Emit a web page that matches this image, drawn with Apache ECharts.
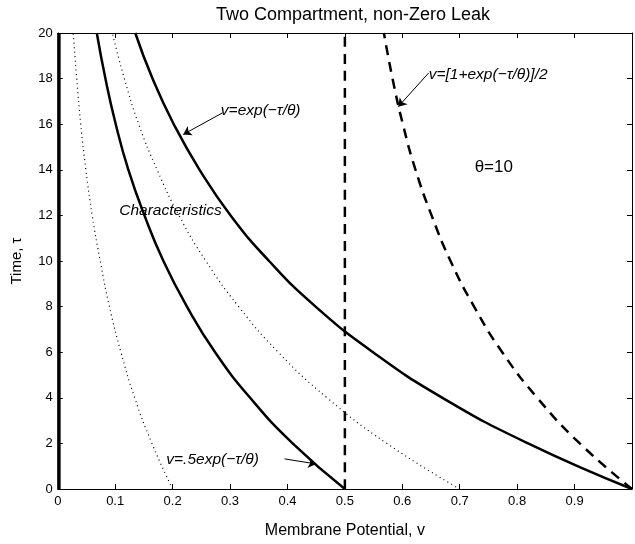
<!DOCTYPE html>
<html lang="en">
<head>
    <meta charset="UTF-8">
    <title>Two Compartment, non-Zero Leak</title>
    <script src="https://cdn.jsdelivr.net/npm/echarts/dist/echarts.min.js"></script>
    <style>
        body { margin: 0; background: #fff; }
        #chart { width: 635px; height: 544px; }
    </style>
</head>
<body>
<div id="chart"></div>
<script>
    const tau = [0, 2, 4, 6, 8, 10, 12, 14, 16, 18, 20];
    const vDot02 = [0.200, 0.164, 0.134, 0.110, 0.090, 0.074, 0.060, 0.049, 0.040, 0.033, 0.027];
    const vSolid05 = [0.500, 0.409, 0.335, 0.274, 0.225, 0.184, 0.151, 0.123, 0.101, 0.083, 0.068];
    const vDot07 = [0.700, 0.573, 0.469, 0.384, 0.315, 0.258, 0.211, 0.173, 0.141, 0.116, 0.095];
    const vSolid10 = [1.000, 0.819, 0.670, 0.549, 0.449, 0.368, 0.301, 0.247, 0.202, 0.165, 0.135];
    const vDashHalf = [1.000, 0.909, 0.835, 0.774, 0.725, 0.684, 0.651, 0.623, 0.601, 0.583, 0.568];
    // straight lines: v=0 edge and v=0.5
    const edgeV = [0.002, 0.002];
    const midV = [0.5, 0.5];
    const edgeTau = [0, 20];

    // annotations (data coordinates)
    const noteText = ['v=exp(\u2212\u03c4/\u03b8)', 'Characteristics', 'v=.5exp(\u2212\u03c4/\u03b8)', 'v=[1+exp(\u2212\u03c4/\u03b8)]/2', '\u03b8=10'];
    const noteV = [0.284, 0.107, 0.189, 0.646, 0.726];
    const noteTau = [16.6, 12.2, 1.3, 18.15, 14.1];
    const arrowFrom = [[0.287, 16.5], [0.395, 1.32], [0.646, 18.25]];
    const arrowTo = [[0.2185, 15.55], [0.450, 1.10], [0.593, 16.77]];

    const xTicks = [0, 0.1, 0.2, 0.3, 0.4, 0.5, 0.6, 0.7, 0.8, 0.9];

    const chart = echarts.init(document.getElementById('chart'));
    const font = '"Liberation Sans", Arial, sans-serif';

    function pairs(vs, ts) {
        return vs.map((v, i) => [v, ts[i]]);
    }

    function lineSeries(data, type, width) {
        return {
            type: 'line',
            data: data,
            smooth: true,
            symbol: 'none',
            silent: true,
            lineStyle: { color: '#000', width: width, type: type }
        };
    }

    const notesSeries = lineSeries([], 'solid', 1);
    notesSeries.markPoint = {
        silent: true,
        symbol: 'circle',
        symbolSize: 0,
        data: noteText.map((t, i) => ({
            coord: [noteV[i], noteTau[i]],
            label: {
                show: true,
                position: 'right',
                distance: 0,
                formatter: t,
                color: '#000',
                fontFamily: font,
                fontSize: i === 4 ? 17 : 15.5,
                fontStyle: i === 4 ? 'normal' : 'italic'
            }
        }))
    };
    notesSeries.markLine = {
        silent: true,
        animation: false,
        symbolSize: 8,
        label: { show: false },
        lineStyle: { color: '#000', width: 1, type: 'solid' },
        data: arrowFrom.map((p, i) => [
            { coord: p, symbol: 'none' },
            { coord: arrowTo[i], symbol: 'arrow' }
        ])
    };

    const axisCommon = {
        type: 'value',
        axisLine: { show: true, onZero: false, lineStyle: { color: '#000', width: 1 } },
        axisTick: { show: true, inside: true, length: 5, lineStyle: { color: '#000' } },
        splitLine: { show: false }
    };

    chart.setOption({
        animation: false,
        backgroundColor: '#fff',
        title: {
            text: 'Two Compartment, non-Zero Leak',
            left: 211,
            top: 1,
            textStyle: { fontFamily: font, fontSize: 18, fontWeight: 'normal', color: '#000' }
        },
        grid: { left: 57.75, right: -5.25, top: 33, bottom: 53 },
        xAxis: [
            Object.assign({}, axisCommon, {
                min: 0, max: 1, interval: 0.1,
                name: 'Membrane Potential, v',
                nameLocation: 'middle',
                nameGap: 34,
                nameTextStyle: { fontFamily: font, fontSize: 16, color: '#000' },
                axisLabel: {
                    margin: 6,
                    fontFamily: font, fontSize: 13, color: '#000',
                    formatter: v => xTicks.includes(Math.round(v * 10) / 10) ? String(Math.round(v * 10) / 10) : ''
                }
            }),
            Object.assign({}, axisCommon, {
                position: 'top', min: 0, max: 1, interval: 0.1,
                axisLabel: { show: false }
            })
        ],
        yAxis: [
            Object.assign({}, axisCommon, {
                min: 0, max: 20, interval: 2,
                name: 'Time, \u03c4',
                nameLocation: 'middle',
                nameGap: 33,
                nameTextStyle: { fontFamily: font, fontSize: 15, color: '#000' },
                axisLabel: { margin: 5, fontFamily: font, fontSize: 13, color: '#000' }
            }),
            Object.assign({}, axisCommon, {
                position: 'right', min: 0, max: 20, interval: 2,
                axisLabel: { show: false }
            })
        ],
        series: [
            lineSeries(pairs(edgeV, edgeTau), 'solid', 3.5),
            lineSeries(pairs(vDot02, tau), [1, 3.5], 1.2),
            lineSeries(pairs(vSolid05, tau), 'solid', 2.5),
            lineSeries(pairs(vDot07, tau), [1, 3.5], 1.2),
            lineSeries(pairs(vSolid10, tau), 'solid', 2.5),
            lineSeries(pairs(midV, edgeTau), [10, 7], 2.5),
            lineSeries(pairs(vDashHalf, tau), [10, 7], 2.5),
            notesSeries
        ]
    });
</script>
</body>
</html>
